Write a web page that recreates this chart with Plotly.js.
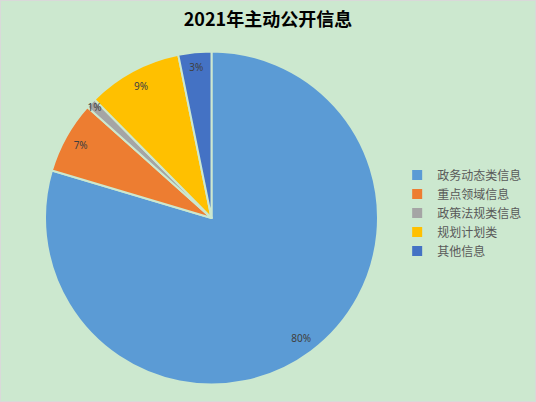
<!DOCTYPE html>
<html><head><meta charset="utf-8">
<script src="https://cdn.plot.ly/plotly-3.0.1.min.js"></script>
<style>html,body{margin:0;padding:0;background:#CCE8CF;}#c{width:536px;height:402px;}</style>
</head><body><div id="c"></div>
<script>
const categories = ['政务动态类信息','重点领域信息','政策法规类信息','规划计划类','其他信息'];
const values = [79.6, 7.0, 1.0, 9.2, 3.2];
const colors = ['#5B9BD5','#ED7D31','#A5A5A5','#FFC000','#4472C4'];
const bg = '#CCE8CF';
const dom = {x:[45/536, 378/536], y:[1-384.5/402, 1-51.5/402]};
const traces = [
 {type:'pie', labels:categories, values:values, sort:false, direction:'clockwise', rotation:0,
  marker:{colors:colors, line:{color:bg, width:2}}, textinfo:'none', domain:dom, hoverinfo:'label+percent'},
 {type:'pie', labels:categories, values:values, sort:false, direction:'clockwise', rotation:0, hole:0.8,
  marker:{colors:colors.map(()=> 'rgba(0,0,0,0)'), line:{width:0}}, showlegend:false,
  texttemplate:'%{percent:.0%}', textposition:'inside', insidetextorientation:'horizontal',
  textfont:{family:'Noto Sans, DejaVu Sans, sans-serif', size:10, color:'#404040'}, domain:dom, hoverinfo:'skip'}
];
const layout = {
 width:536, height:402, paper_bgcolor:bg, plot_bgcolor:bg,
 margin:{l:0,r:0,t:0,b:0},
 uniformtext:{minsize:10, mode:'show'},
 title:{text:'<b>2021年主动公开信息</b>', x:0.5, xanchor:'center', y:1-20/402, yanchor:'middle',
  font:{family:'Noto Sans CJK SC, sans-serif', size:18, color:'#000000'}},
 legend:{x:0.741, xanchor:'left', y:0.47, yanchor:'middle', bgcolor:'rgba(0,0,0,0)',
  font:{family:'Noto Sans CJK SC, sans-serif', size:12, color:'#595959'}},
 shapes:[{type:'rect', xref:'paper', yref:'paper', x0:0, x1:1, y0:0, y1:1, line:{color:'#D9D9D9', width:2}}]
};
Plotly.newPlot('c', traces, layout, {displayModeBar:false, staticPlot:true});
</script></body></html>
